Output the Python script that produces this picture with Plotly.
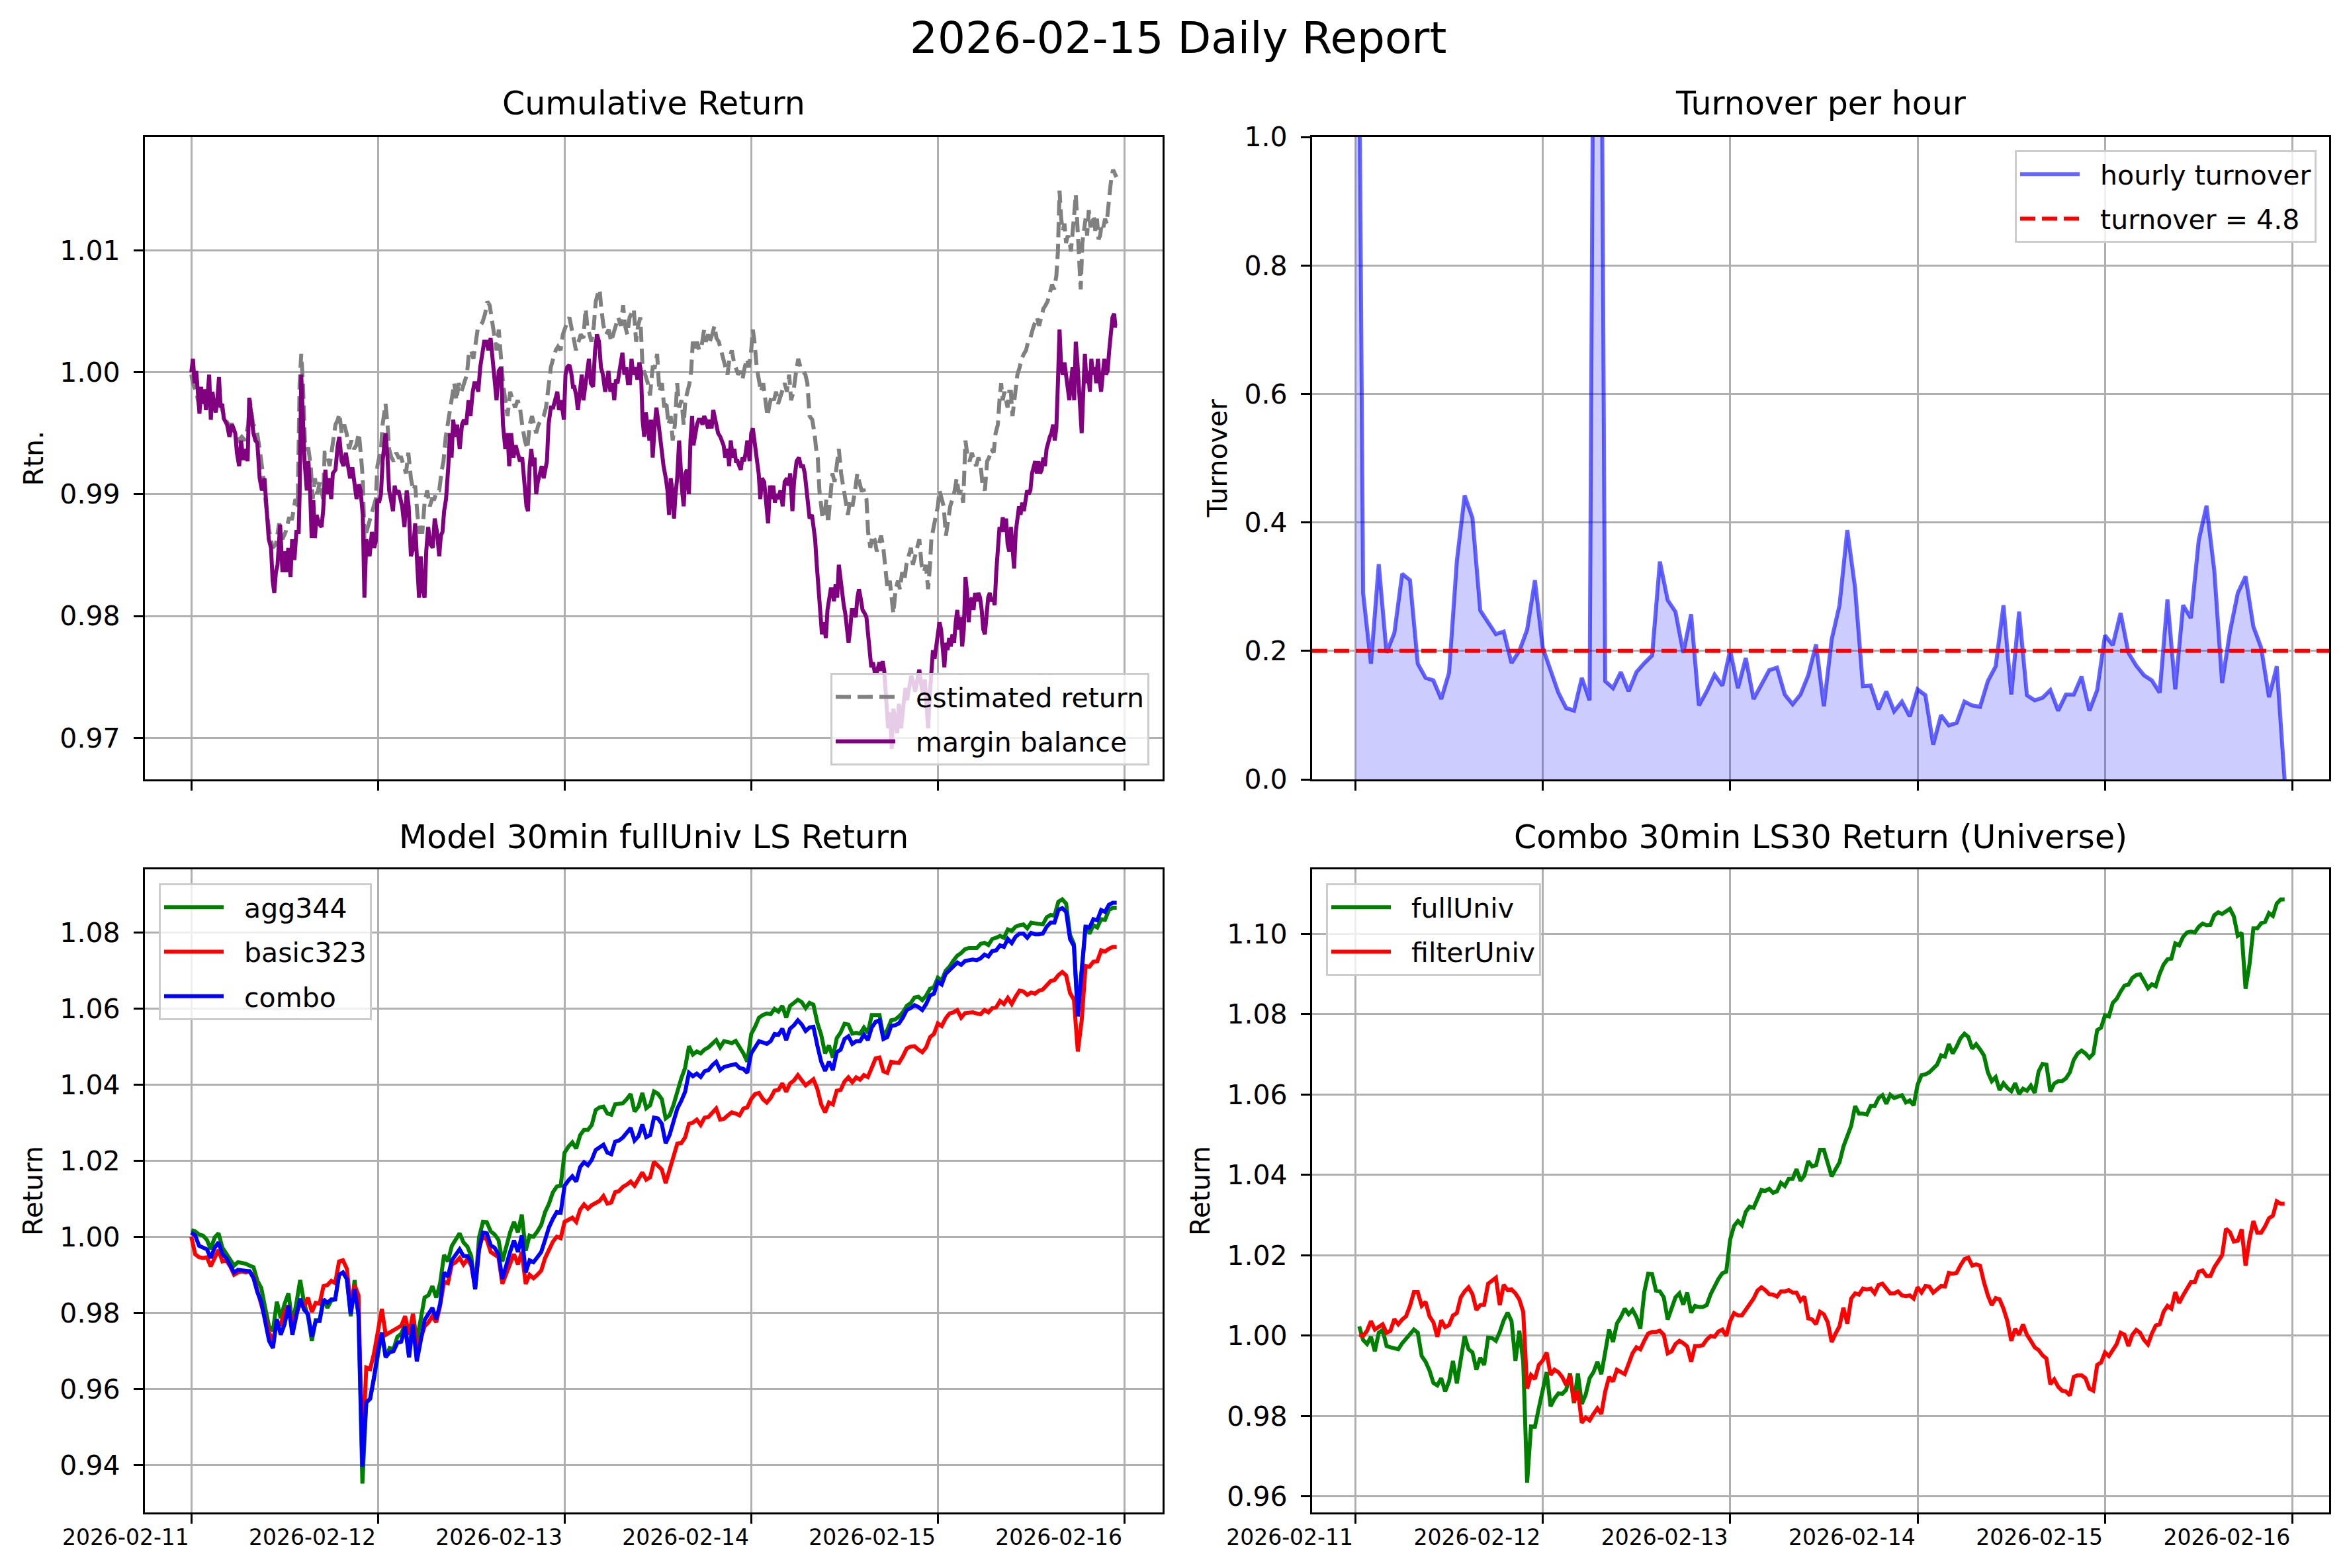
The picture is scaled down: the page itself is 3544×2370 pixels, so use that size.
import pandas as pd
import plotly.graph_objects as go

START = pd.Timestamp("2026-02-11 00:00")

# ---------------------------------------------------------------- data
# (hours since 2026-02-11 00:00, value)
ESTIMATED_RETURN = [
    (0.00, 0.9998), (0.21, 0.9991), (0.63, 0.9984), (1.05, 0.9971), (1.46, 0.9977), (1.88, 0.9974),
    (2.30, 0.9981), (2.72, 0.9977), (3.14, 0.9971), (3.56, 0.9981), (3.97, 0.9969), (4.39, 0.9961),
    (4.81, 0.9957), (5.23, 0.9957), (5.65, 0.9950), (6.07, 0.9944), (6.49, 0.9947), (6.90, 0.9944),
    (7.32, 0.9957), (7.53, 0.9977), (7.95, 0.9957), (8.37, 0.9954), (8.79, 0.9937), (9.20, 0.9917),
    (9.62, 0.9890), (10.04, 0.9869), (10.46, 0.9856), (10.88, 0.9859), (11.30, 0.9876), (11.72, 0.9863),
    (12.13, 0.9869), (12.55, 0.9880), (12.97, 0.9880), (13.39, 0.9896), (13.68, 0.9890), (13.93, 0.9991),
    (14.14, 1.0015), (14.35, 0.9991), (14.64, 0.9937), (15.06, 0.9937), (15.36, 0.9923), (15.61, 0.9896),
    (15.90, 0.9913), (16.19, 0.9900), (16.53, 0.9910), (16.95, 0.9896), (17.15, 0.9934), (17.45, 0.9934),
    (17.78, 0.9923), (18.20, 0.9940), (18.54, 0.9957), (18.83, 0.9961), (19.04, 0.9966), (19.33, 0.9950),
    (19.66, 0.9957), (19.96, 0.9950), (20.29, 0.9937), (20.59, 0.9944), (20.92, 0.9937), (21.21, 0.9940),
    (21.55, 0.9950), (21.84, 0.9930), (22.05, 0.9913), (22.26, 0.9863), (22.51, 0.9869), (22.80, 0.9876),
    (23.10, 0.9883), (23.43, 0.9890), (23.72, 0.9896), (23.93, 0.9923), (24.14, 0.9930), (24.39, 0.9937),
    (24.60, 0.9957), (24.81, 0.9967), (24.98, 0.9974), (25.23, 0.9957), (25.44, 0.9937), (25.73, 0.9930),
    (26.02, 0.9927), (26.36, 0.9934), (26.65, 0.9930), (26.99, 0.9930), (27.28, 0.9923), (27.61, 0.9917),
    (27.91, 0.9934), (28.24, 0.9913), (28.54, 0.9903), (28.79, 0.9907), (29.08, 0.9883), (29.37, 0.9869),
    (29.71, 0.9869), (30.00, 0.9893), (30.33, 0.9903), (30.67, 0.9890), (30.96, 0.9896), (31.25, 0.9896),
    (31.59, 0.9903), (31.88, 0.9903), (32.22, 0.9920), (32.43, 0.9927), (32.72, 0.9947), (32.97, 0.9957),
    (33.26, 0.9971), (33.56, 0.9984), (33.81, 0.9991), (34.10, 0.9977), (34.39, 0.9991), (34.73, 0.9984),
    (35.15, 0.9991), (35.44, 0.9998), (35.69, 1.0015), (35.98, 1.0018), (36.28, 1.0011), (36.53, 1.0025),
    (36.82, 1.0035), (37.11, 1.0038), (37.45, 1.0041), (37.78, 1.0048), (38.07, 1.0058), (38.37, 1.0055),
    (38.70, 1.0041), (39.00, 1.0025), (39.25, 1.0018), (39.54, 1.0035), (39.83, 1.0011), (40.08, 0.9991),
    (40.38, 0.9977), (40.67, 0.9964), (41.00, 0.9984), (41.30, 0.9977), (41.63, 0.9971), (41.97, 0.9977),
    (42.26, 0.9971), (42.55, 0.9957), (42.89, 0.9944), (43.22, 0.9937), (43.51, 0.9957), (43.81, 0.9964),
    (44.06, 0.9957), (44.35, 0.9950), (44.64, 0.9957), (44.98, 0.9961), (45.31, 0.9964), (45.61, 0.9971),
    (45.90, 0.9988), (46.23, 1.0004), (46.53, 1.0011), (46.86, 1.0018), (47.15, 1.0021), (47.49, 1.0018),
    (47.78, 1.0031), (48.08, 1.0038), (48.33, 1.0041), (48.62, 1.0045), (48.87, 1.0035), (49.16, 1.0028),
    (49.46, 1.0018), (49.79, 1.0025), (50.08, 1.0031), (50.42, 1.0028), (50.71, 1.0052), (50.92, 1.0038),
    (51.17, 1.0031), (51.46, 1.0025), (51.76, 1.0038), (52.01, 1.0058), (52.30, 1.0065), (52.51, 1.0068),
    (52.72, 1.0052), (53.01, 1.0038), (53.35, 1.0031), (53.68, 1.0035), (53.98, 1.0025), (54.27, 1.0031),
    (54.60, 1.0038), (54.90, 1.0045), (55.23, 1.0038), (55.53, 1.0055), (55.78, 1.0038), (56.07, 1.0031),
    (56.36, 1.0045), (56.61, 1.0048), (56.90, 1.0052), (57.20, 1.0025), (57.45, 1.0038), (57.74, 1.0045),
    (58.03, 1.0004), (58.37, 0.9998), (58.70, 0.9991), (58.99, 0.9981), (59.33, 1.0004), (59.60, 1.0004),
    (59.90, 1.0015), (60.19, 0.9984), (60.52, 0.9991), (60.81, 0.9971), (61.06, 0.9977), (61.36, 0.9957),
    (61.65, 0.9964), (61.90, 0.9944), (62.19, 0.9957), (62.48, 0.9991), (62.73, 0.9971), (63.03, 0.9977),
    (63.32, 0.9957), (63.53, 0.9977), (63.78, 0.9984), (64.07, 0.9991), (64.28, 1.0001), (64.49, 1.0025),
    (64.78, 1.0018), (65.03, 1.0025), (65.32, 1.0018), (65.61, 1.0021), (65.95, 1.0035), (66.16, 1.0025),
    (66.45, 1.0031), (66.66, 1.0025), (66.99, 1.0031), (67.28, 1.0038), (67.53, 1.0028), (67.83, 1.0025),
    (68.12, 1.0018), (68.37, 1.0011), (68.66, 1.0004), (68.95, 0.9998), (69.20, 1.0011), (69.50, 1.0018),
    (69.79, 1.0008), (70.04, 1.0004), (70.33, 0.9998), (70.62, 1.0001), (70.87, 0.9994), (71.17, 1.0004),
    (71.46, 1.0011), (71.71, 1.0004), (72.00, 1.0018), (72.21, 1.0035), (72.42, 1.0025), (72.71, 1.0004),
    (72.96, 0.9994), (73.25, 0.9984), (73.54, 0.9991), (73.88, 0.9977), (74.09, 0.9964), (74.38, 0.9974),
    (74.63, 0.9981), (74.92, 0.9977), (75.21, 0.9984), (75.46, 0.9974), (75.76, 0.9981), (76.05, 0.9988),
    (76.30, 0.9991), (76.59, 0.9984), (76.88, 0.9998), (77.13, 0.9977), (77.43, 0.9984), (77.72, 0.9998),
    (78.05, 1.0011), (78.34, 1.0004), (78.68, 1.0001), (78.97, 0.9998), (79.22, 0.9991), (79.51, 0.9964),
    (79.85, 0.9961), (80.14, 0.9950), (80.35, 0.9937), (80.56, 0.9930), (80.77, 0.9903), (80.98, 0.9890),
    (81.18, 0.9880), (81.48, 0.9886), (81.68, 0.9896), (81.89, 0.9876), (82.23, 0.9903), (82.44, 0.9917),
    (82.73, 0.9910), (82.98, 0.9923), (83.27, 0.9937), (83.56, 0.9917), (83.90, 0.9903), (84.19, 0.9896),
    (84.44, 0.9883), (84.73, 0.9896), (85.02, 0.9890), (85.36, 0.9903), (85.65, 0.9917), (85.90, 0.9910),
    (86.19, 0.9903), (86.48, 0.9903), (86.82, 0.9896), (87.03, 0.9869), (87.32, 0.9856), (87.57, 0.9866),
    (87.86, 0.9863), (88.15, 0.9853), (88.40, 0.9859), (88.70, 0.9866), (88.99, 0.9856), (89.24, 0.9842),
    (89.53, 0.9822), (89.82, 0.9829), (90.07, 0.9812), (90.28, 0.9802), (90.57, 0.9822), (90.87, 0.9829),
    (91.12, 0.9822), (91.41, 0.9836), (91.70, 0.9829), (91.95, 0.9842), (92.24, 0.9849), (92.54, 0.9856),
    (92.79, 0.9842), (93.08, 0.9849), (93.37, 0.9856), (93.62, 0.9863), (93.91, 0.9842), (94.21, 0.9836),
    (94.46, 0.9842), (94.75, 0.9822), (94.96, 0.9839), (95.17, 0.9863), (95.46, 0.9873), (95.71, 0.9880),
    (96.00, 0.9890), (96.21, 0.9903), (96.50, 0.9896), (96.75, 0.9890), (97.04, 0.9866), (97.34, 0.9883),
    (97.59, 0.9890), (97.88, 0.9896), (98.17, 0.9903), (98.42, 0.9913), (98.71, 0.9900), (99.01, 0.9903),
    (99.26, 0.9893), (99.55, 0.9944), (99.84, 0.9930), (100.09, 0.9927), (100.38, 0.9934), (100.68, 0.9927),
    (100.93, 0.9923), (101.22, 0.9930), (101.51, 0.9923), (101.76, 0.9907), (102.05, 0.9903), (102.34, 0.9927),
    (102.59, 0.9930), (102.89, 0.9937), (103.18, 0.9934), (103.43, 0.9950), (103.72, 0.9957), (103.93, 0.9977),
    (104.14, 0.9991), (104.35, 0.9977), (104.56, 0.9984), (104.77, 0.9977), (104.97, 0.9971), (105.18, 0.9984),
    (105.39, 0.9984), (105.60, 0.9964), (105.81, 0.9977), (106.02, 0.9991), (106.23, 0.9998), (106.52, 1.0004),
    (106.77, 1.0011), (107.06, 1.0015), (107.35, 1.0018), (107.60, 1.0025), (107.90, 1.0028), (108.19, 1.0035),
    (108.44, 1.0041), (108.73, 1.0045), (109.02, 1.0038), (109.27, 1.0045), (109.57, 1.0052), (109.86, 1.0055),
    (110.11, 1.0058), (110.40, 1.0065), (110.69, 1.0072), (110.94, 1.0068), (111.24, 1.0079), (111.44, 1.0099),
    (111.65, 1.0149), (111.86, 1.0126), (112.07, 1.0116), (112.28, 1.0122), (112.49, 1.0106), (112.70, 1.0112),
    (112.91, 1.0109), (113.11, 1.0099), (113.32, 1.0119), (113.53, 1.0129), (113.74, 1.0146), (113.95, 1.0122),
    (114.16, 1.0092), (114.37, 1.0068), (114.58, 1.0106), (114.79, 1.0116), (115.00, 1.0126), (115.20, 1.0112),
    (115.41, 1.0133), (115.62, 1.0119), (115.83, 1.0122), (116.04, 1.0129), (116.25, 1.0116), (116.46, 1.0126),
    (116.67, 1.0109), (116.87, 1.0112), (117.08, 1.0122), (117.29, 1.0119), (117.50, 1.0126), (117.71, 1.0122),
    (117.92, 1.0139), (118.13, 1.0149), (118.33, 1.0160), (118.54, 1.0166), (118.75, 1.0163), (118.96, 1.0160),
]

MARGIN_BALANCE = [
    (0.00, 1.0000), (0.10, 1.0004), (0.21, 1.0011), (0.42, 0.9991), (0.63, 1.0001), (0.84, 0.9984),
    (1.05, 0.9966), (1.26, 0.9988), (1.46, 0.9974), (1.67, 0.9986), (1.88, 0.9969), (2.09, 0.9981),
    (2.30, 0.9998), (2.51, 0.9961), (2.72, 0.9984), (2.93, 0.9974), (3.14, 0.9967), (3.35, 0.9977),
    (3.56, 0.9996), (3.77, 0.9971), (3.97, 0.9974), (4.18, 0.9962), (4.60, 0.9957), (4.90, 0.9947),
    (5.23, 0.9957), (5.65, 0.9950), (5.86, 0.9934), (6.15, 0.9923), (6.40, 0.9944), (6.69, 0.9928),
    (6.99, 0.9937), (7.24, 0.9927), (7.45, 0.9979), (7.74, 0.9964), (7.99, 0.9950), (8.24, 0.9944),
    (8.49, 0.9942), (8.79, 0.9913), (9.08, 0.9903), (9.41, 0.9913), (9.75, 0.9883), (9.96, 0.9863),
    (10.25, 0.9856), (10.46, 0.9829), (10.67, 0.9819), (10.88, 0.9836), (11.09, 0.9842), (11.42, 0.9875),
    (11.72, 0.9836), (11.92, 0.9853), (12.22, 0.9836), (12.47, 0.9856), (12.76, 0.9832), (12.97, 0.9863),
    (13.26, 0.9846), (13.51, 0.9869), (13.81, 0.9869), (13.93, 0.9900), (14.14, 0.9998), (14.35, 0.9950),
    (14.56, 0.9927), (14.85, 0.9903), (15.06, 0.9927), (15.27, 0.9903), (15.48, 0.9864), (15.69, 0.9895),
    (15.90, 0.9864), (16.11, 0.9883), (16.40, 0.9876), (16.74, 0.9873), (16.95, 0.9886), (17.24, 0.9920),
    (17.49, 0.9900), (17.70, 0.9913), (17.99, 0.9896), (18.20, 0.9917), (18.54, 0.9920), (18.83, 0.9940),
    (19.04, 0.9947), (19.33, 0.9927), (19.58, 0.9923), (19.87, 0.9934), (20.17, 0.9920), (20.42, 0.9913),
    (20.71, 0.9922), (21.00, 0.9907), (21.25, 0.9896), (21.55, 0.9908), (21.76, 0.9903), (22.05, 0.9883),
    (22.26, 0.9815), (22.51, 0.9863), (22.72, 0.9856), (22.93, 0.9849), (23.22, 0.9869), (23.51, 0.9856),
    (23.72, 0.9861), (23.93, 0.9896), (24.14, 0.9893), (24.39, 0.9900), (24.60, 0.9927), (24.81, 0.9937),
    (24.98, 0.9950), (25.23, 0.9930), (25.44, 0.9903), (25.65, 0.9896), (25.94, 0.9886), (26.15, 0.9907),
    (26.36, 0.9900), (26.65, 0.9903), (26.90, 0.9896), (27.11, 0.9890), (27.41, 0.9873), (27.70, 0.9903),
    (27.95, 0.9890), (28.24, 0.9849), (28.54, 0.9856), (28.79, 0.9876), (29.08, 0.9839), (29.29, 0.9815),
    (29.50, 0.9849), (29.75, 0.9822), (30.00, 0.9815), (30.21, 0.9853), (30.46, 0.9873), (30.75, 0.9859),
    (31.05, 0.9856), (31.30, 0.9880), (31.59, 0.9869), (31.88, 0.9849), (32.09, 0.9866), (32.30, 0.9869),
    (32.51, 0.9886), (32.76, 0.9896), (33.05, 0.9923), (33.26, 0.9950), (33.47, 0.9930), (33.68, 0.9961),
    (33.93, 0.9947), (34.18, 0.9957), (34.52, 0.9937), (34.81, 0.9957), (35.06, 0.9961), (35.35, 0.9957),
    (35.65, 0.9977), (35.90, 0.9964), (36.19, 0.9984), (36.40, 0.9991), (36.61, 0.9991), (36.90, 0.9984),
    (37.15, 1.0004), (37.45, 1.0018), (37.66, 1.0025), (37.95, 1.0025), (38.20, 1.0018), (38.49, 1.0028),
    (38.79, 1.0011), (39.04, 0.9991), (39.25, 0.9977), (39.54, 1.0001), (39.83, 1.0004), (40.08, 0.9957),
    (40.38, 0.9937), (40.67, 0.9950), (40.88, 0.9923), (41.13, 0.9950), (41.42, 0.9930), (41.71, 0.9940),
    (41.97, 0.9934), (42.26, 0.9927), (42.55, 0.9930), (42.80, 0.9907), (43.10, 0.9890), (43.30, 0.9886),
    (43.51, 0.9923), (43.72, 0.9937), (43.93, 0.9923), (44.14, 0.9930), (44.35, 0.9900), (44.56, 0.9910),
    (44.77, 0.9917), (45.06, 0.9923), (45.31, 0.9913), (45.52, 0.9923), (45.73, 0.9927), (45.94, 0.9957),
    (46.23, 0.9971), (46.53, 0.9971), (46.82, 0.9977), (47.07, 0.9984), (47.28, 0.9969), (47.57, 0.9977),
    (47.91, 0.9961), (48.12, 0.9998), (48.33, 1.0004), (48.62, 1.0006), (48.87, 0.9999), (49.08, 0.9988),
    (49.25, 0.9988), (49.50, 0.9981), (49.71, 0.9969), (50.00, 0.9984), (50.21, 0.9998), (50.42, 0.9977),
    (50.71, 0.9991), (50.92, 1.0004), (51.13, 1.0011), (51.38, 0.9991), (51.67, 0.9988), (51.92, 1.0018),
    (52.17, 1.0031), (52.43, 1.0025), (52.68, 1.0004), (52.93, 0.9998), (53.22, 0.9984), (53.43, 0.9991),
    (53.64, 1.0001), (53.89, 0.9984), (54.18, 0.9991), (54.39, 0.9977), (54.60, 0.9994), (54.81, 0.9991),
    (55.02, 0.9999), (55.23, 1.0008), (55.44, 1.0016), (55.69, 0.9998), (55.94, 1.0004), (56.15, 0.9991),
    (56.40, 0.9991), (56.61, 1.0011), (56.82, 0.9998), (57.11, 1.0004), (57.36, 0.9994), (57.61, 1.0008),
    (57.82, 1.0001), (58.03, 0.9961), (58.24, 0.9947), (58.45, 0.9967), (58.70, 0.9954), (58.91, 0.9944),
    (59.12, 0.9961), (59.33, 0.9930), (59.60, 0.9957), (59.81, 0.9971), (60.10, 0.9957), (60.40, 0.9937),
    (60.73, 0.9923), (61.02, 0.9913), (61.23, 0.9903), (61.44, 0.9883), (61.65, 0.9913), (61.86, 0.9903),
    (62.07, 0.9880), (62.27, 0.9900), (62.48, 0.9913), (62.73, 0.9944), (62.90, 0.9923), (63.11, 0.9903),
    (63.32, 0.9890), (63.53, 0.9917), (63.74, 0.9920), (63.99, 0.9900), (64.19, 0.9944), (64.40, 0.9964),
    (64.57, 0.9940), (64.82, 0.9950), (65.03, 0.9957), (65.24, 0.9961), (65.53, 0.9961), (65.74, 0.9957),
    (65.95, 0.9964), (66.16, 0.9961), (66.45, 0.9954), (66.66, 0.9961), (66.91, 0.9954), (67.12, 0.9969),
    (67.33, 0.9961), (67.53, 0.9954), (67.74, 0.9950), (68.03, 0.9947), (68.24, 0.9944), (68.45, 0.9940),
    (68.66, 0.9930), (68.99, 0.9937), (69.16, 0.9923), (69.37, 0.9944), (69.62, 0.9930), (69.83, 0.9937),
    (70.04, 0.9927), (70.25, 0.9927), (70.46, 0.9923), (70.66, 0.9920), (70.87, 0.9930), (71.08, 0.9927),
    (71.29, 0.9934), (71.50, 0.9944), (71.79, 0.9927), (72.00, 0.9950), (72.21, 0.9954), (72.42, 0.9944),
    (72.75, 0.9923), (72.96, 0.9917), (73.17, 0.9896), (73.38, 0.9913), (73.67, 0.9910), (73.96, 0.9890),
    (74.17, 0.9876), (74.42, 0.9907), (74.63, 0.9896), (74.84, 0.9907), (75.05, 0.9893), (75.26, 0.9900),
    (75.46, 0.9896), (75.76, 0.9903), (76.05, 0.9890), (76.30, 0.9910), (76.59, 0.9913), (76.80, 0.9907),
    (77.01, 0.9917), (77.30, 0.9886), (77.51, 0.9910), (77.84, 0.9927), (78.14, 0.9930), (78.39, 0.9923),
    (78.68, 0.9923), (78.89, 0.9917), (79.10, 0.9903), (79.30, 0.9890), (79.51, 0.9880), (79.81, 0.9883),
    (80.01, 0.9873), (80.22, 0.9863), (80.43, 0.9842), (80.68, 0.9822), (80.89, 0.9802), (81.10, 0.9785),
    (81.31, 0.9795), (81.60, 0.9782), (81.81, 0.9805), (82.02, 0.9812), (82.23, 0.9822), (82.44, 0.9822),
    (82.64, 0.9812), (82.85, 0.9826), (83.06, 0.9815), (83.27, 0.9842), (83.48, 0.9829), (83.69, 0.9815),
    (83.90, 0.9809), (84.10, 0.9802), (84.31, 0.9792), (84.52, 0.9778), (84.73, 0.9789), (84.94, 0.9805),
    (85.15, 0.9805), (85.44, 0.9799), (85.65, 0.9815), (85.86, 0.9822), (86.07, 0.9815), (86.32, 0.9805),
    (86.61, 0.9802), (86.82, 0.9799), (87.03, 0.9785), (87.24, 0.9765), (87.44, 0.9758), (87.65, 0.9762),
    (87.86, 0.9755), (88.20, 0.9755), (88.49, 0.9762), (88.70, 0.9755), (88.90, 0.9763), (89.11, 0.9755),
    (89.32, 0.9731), (89.61, 0.9708), (89.86, 0.9721), (90.07, 0.9691), (90.28, 0.9724), (90.57, 0.9714),
    (90.78, 0.9704), (90.99, 0.9728), (91.28, 0.9708), (91.53, 0.9724), (91.83, 0.9741), (92.04, 0.9731),
    (92.33, 0.9741), (92.58, 0.9751), (92.87, 0.9745), (93.08, 0.9738), (93.37, 0.9748), (93.62, 0.9756),
    (93.83, 0.9745), (94.12, 0.9735), (94.33, 0.9748), (94.54, 0.9728), (94.75, 0.9708), (94.96, 0.9735),
    (95.17, 0.9762), (95.37, 0.9772), (95.58, 0.9765), (95.79, 0.9775), (96.00, 0.9782), (96.21, 0.9795),
    (96.42, 0.9789), (96.63, 0.9768), (96.84, 0.9758), (97.04, 0.9778), (97.25, 0.9772), (97.46, 0.9782),
    (97.67, 0.9775), (97.88, 0.9785), (98.09, 0.9778), (98.30, 0.9795), (98.50, 0.9805), (98.71, 0.9789),
    (98.92, 0.9799), (99.13, 0.9775), (99.34, 0.9789), (99.55, 0.9832), (99.76, 0.9819), (99.97, 0.9795),
    (100.17, 0.9812), (100.38, 0.9815), (100.59, 0.9805), (100.80, 0.9819), (101.01, 0.9812), (101.22, 0.9819),
    (101.43, 0.9815), (101.64, 0.9805), (101.84, 0.9789), (102.05, 0.9785), (102.26, 0.9805), (102.47, 0.9815),
    (102.68, 0.9819), (102.89, 0.9812), (103.10, 0.9815), (103.31, 0.9809), (103.51, 0.9836), (103.72, 0.9856),
    (103.93, 0.9873), (104.14, 0.9869), (104.35, 0.9881), (104.56, 0.9869), (104.77, 0.9880), (104.97, 0.9859),
    (105.18, 0.9853), (105.39, 0.9873), (105.60, 0.9849), (105.81, 0.9839), (106.02, 0.9869), (106.23, 0.9880),
    (106.44, 0.9890), (106.64, 0.9883), (106.85, 0.9893), (107.06, 0.9886), (107.27, 0.9896), (107.48, 0.9903),
    (107.69, 0.9900), (107.90, 0.9903), (108.11, 0.9917), (108.31, 0.9923), (108.52, 0.9927), (108.73, 0.9917),
    (108.94, 0.9927), (109.15, 0.9917), (109.36, 0.9920), (109.57, 0.9930), (109.77, 0.9923), (109.98, 0.9937),
    (110.19, 0.9944), (110.40, 0.9947), (110.61, 0.9950), (110.82, 0.9957), (111.03, 0.9944), (111.24, 0.9954),
    (111.44, 0.9991), (111.65, 1.0035), (111.86, 1.0004), (112.07, 0.9998), (112.28, 1.0008), (112.49, 0.9998),
    (112.70, 0.9991), (112.91, 0.9977), (113.11, 0.9991), (113.32, 1.0004), (113.53, 0.9977), (113.74, 1.0025),
    (113.95, 1.0008), (114.16, 0.9988), (114.37, 0.9957), (114.50, 0.9950), (114.66, 0.9977), (114.91, 1.0015),
    (115.12, 0.9991), (115.33, 1.0001), (115.54, 0.9984), (115.74, 1.0011), (115.95, 0.9998), (116.16, 1.0004),
    (116.37, 0.9991), (116.58, 1.0011), (116.79, 0.9994), (117.00, 0.9984), (117.20, 0.9998), (117.41, 1.0011),
    (117.62, 0.9998), (117.83, 1.0001), (118.04, 1.0018), (118.25, 1.0031), (118.46, 1.0045), (118.67, 1.0048),
    (118.83, 1.0038), (119.04, 1.0038),
]

# hourly, from 2026-02-11 00:00
HOURLY_TURNOVER = [
    2.0, 0.29, 0.18, 0.335, 0.197, 0.228, 0.32, 0.31, 0.18, 0.158,
    0.154, 0.125, 0.166, 0.34, 0.442, 0.407, 0.263, 0.244, 0.226, 0.23,
    0.181, 0.2, 0.233, 0.31, 0.205, 0.17, 0.135, 0.111, 0.107, 0.158,
    0.123, 2.4, 0.153, 0.142, 0.167, 0.137, 0.167, 0.181, 0.193, 0.339,
    0.279, 0.261, 0.197, 0.257, 0.115, 0.137, 0.163, 0.146, 0.201, 0.142,
    0.189, 0.125, 0.146, 0.170, 0.174, 0.132, 0.117, 0.132, 0.162, 0.210,
    0.114, 0.218, 0.271, 0.388, 0.298, 0.145, 0.146, 0.109, 0.137, 0.106,
    0.121, 0.098, 0.140, 0.131, 0.054, 0.100, 0.084, 0.088, 0.121, 0.115,
    0.113, 0.153, 0.176, 0.271, 0.132, 0.261, 0.131, 0.123, 0.127, 0.139,
    0.107, 0.132, 0.132, 0.160, 0.107, 0.139, 0.224, 0.209, 0.259, 0.197,
    0.177, 0.162, 0.154, 0.135, 0.280, 0.140, 0.271, 0.251, 0.372, 0.426,
    0.325, 0.150, 0.230, 0.290, 0.316, 0.238, 0.205, 0.128, 0.176, 0.0,
]
DAILY_TURNOVER_TARGET = 4.8
TURNOVER_LINE = DAILY_TURNOVER_TARGET / 24

# 30-min bars, from 2026-02-11 00:00
AGG344 = [
    1.0018, 1.0015, 1.0007, 1.0004, 0.9993, 0.9968, 0.9999, 1.0010, 0.9972, 0.9955,
    0.9939, 0.9925, 0.9934, 0.9932, 0.9930, 0.9925, 0.9921, 0.9885, 0.9866, 0.9814,
    0.9765, 0.9754, 0.9830, 0.9787, 0.9825, 0.9852, 0.9771, 0.9825, 0.9887, 0.9827,
    0.9792, 0.9727, 0.9782, 0.9782, 0.9836, 0.9814, 0.9833, 0.9836, 0.9901, 0.9907,
    0.9890, 0.9792, 0.9887, 0.9792, 0.9352, 0.9564, 0.9575, 0.9629, 0.9684, 0.9749,
    0.9684, 0.9708, 0.9705, 0.9738, 0.9746, 0.9771, 0.9684, 0.9798, 0.9727, 0.9792,
    0.9841, 0.9847, 0.9871, 0.9841, 0.9879, 0.9953, 0.9936, 0.9977, 0.9993, 1.0010,
    0.9986, 0.9975, 0.9950, 0.9863, 0.9999, 1.0040, 1.0039, 1.0015, 1.0007, 0.9993,
    0.9936, 0.9977, 1.0013, 1.0040, 1.0012, 1.0059, 0.9964, 1.0004, 1.0001, 1.0015,
    1.0032, 1.0066, 1.0088, 1.0118, 1.0133, 1.0135, 1.0222, 1.0238, 1.0249, 1.0233,
    1.0268, 1.0282, 1.0282, 1.0295, 1.0334, 1.0341, 1.0343, 1.0325, 1.0322, 1.0349,
    1.0350, 1.0352, 1.0363, 1.0376, 1.0330, 1.0343, 1.0379, 1.0339, 1.0347, 1.0383,
    1.0377, 1.0363, 1.0312, 1.0320, 1.0347, 1.0385, 1.0417, 1.0445, 1.0502, 1.0480,
    1.0488, 1.0483, 1.0493, 1.0499, 1.0510, 1.0518, 1.0499, 1.0515, 1.0513, 1.0510,
    1.0516, 1.0501, 1.0483, 1.0461, 1.0534, 1.0553, 1.0577, 1.0584, 1.0588, 1.0586,
    1.0600, 1.0593, 1.0608, 1.0577, 1.0608, 1.0616, 1.0624, 1.0618, 1.0602, 1.0616,
    1.0611, 1.0564, 1.0532, 1.0483, 1.0504, 1.0472, 1.0523, 1.0538, 1.0561, 1.0559,
    1.0535, 1.0537, 1.0535, 1.0551, 1.0537, 1.0584, 1.0584, 1.0584, 1.0528, 1.0545,
    1.0570, 1.0572, 1.0580, 1.0591, 1.0608, 1.0615, 1.0630, 1.0632, 1.0623, 1.0635,
    1.0653, 1.0657, 1.0682, 1.0675, 1.0700, 1.0711, 1.0727, 1.0740, 1.0747, 1.0757,
    1.0760, 1.0760, 1.0760, 1.0771, 1.0774, 1.0768, 1.0784, 1.0787, 1.0792, 1.0787,
    1.0809, 1.0805, 1.0816, 1.0820, 1.0822, 1.0812, 1.0827, 1.0825, 1.0823, 1.0822,
    1.0841, 1.0847, 1.0845, 1.0882, 1.0888, 1.0877, 1.0795, 1.0771, 1.0588, 1.0695,
    1.0820, 1.0798, 1.0820, 1.0814, 1.0836, 1.0834, 1.0860, 1.0866, 1.0866,
]
BASIC323 = [
    1.0001, 0.9955, 0.9947, 0.9945, 0.9947, 0.9923, 0.9945, 0.9966, 0.9936, 0.9939,
    0.9923, 0.9901, 0.9907, 0.9910, 0.9907, 0.9910, 0.9896, 0.9858, 0.9825, 0.9782,
    0.9749, 0.9727, 0.9776, 0.9771, 0.9803, 0.9820, 0.9771, 0.9798, 0.9825, 0.9816,
    0.9841, 0.9803, 0.9827, 0.9825, 0.9871, 0.9874, 0.9885, 0.9879, 0.9936, 0.9939,
    0.9917, 0.9820, 0.9874, 0.9847, 0.9423, 0.9657, 0.9653, 0.9695, 0.9749, 0.9811,
    0.9743, 0.9749, 0.9754, 0.9762, 0.9767, 0.9792, 0.9743, 0.9798, 0.9711, 0.9733,
    0.9765, 0.9776, 0.9792, 0.9776, 0.9820, 0.9882, 0.9879, 0.9928, 0.9934, 0.9945,
    0.9928, 0.9942, 0.9925, 0.9868, 0.9972, 1.0004, 0.9993, 0.9961, 0.9955, 0.9947,
    0.9877, 0.9907, 0.9930, 0.9955, 0.9928, 0.9961, 0.9877, 0.9901, 0.9892, 0.9901,
    0.9912, 0.9945, 0.9968, 0.9988, 1.0001, 0.9997, 1.0040, 1.0046, 1.0051, 1.0040,
    1.0072, 1.0086, 1.0075, 1.0084, 1.0091, 1.0095, 1.0108, 1.0088, 1.0091, 1.0118,
    1.0121, 1.0132, 1.0138, 1.0146, 1.0135, 1.0151, 1.0170, 1.0151, 1.0157, 1.0198,
    1.0189, 1.0178, 1.0142, 1.0175, 1.0216, 1.0246, 1.0247, 1.0262, 1.0298, 1.0301,
    1.0309, 1.0295, 1.0314, 1.0316, 1.0327, 1.0338, 1.0309, 1.0311, 1.0320, 1.0328,
    1.0325, 1.0320, 1.0338, 1.0341, 1.0363, 1.0376, 1.0379, 1.0363, 1.0354, 1.0366,
    1.0385, 1.0387, 1.0404, 1.0382, 1.0404, 1.0412, 1.0426, 1.0412, 1.0399, 1.0407,
    1.0415, 1.0390, 1.0349, 1.0328, 1.0354, 1.0349, 1.0385, 1.0387, 1.0409, 1.0420,
    1.0407, 1.0420, 1.0414, 1.0426, 1.0421, 1.0445, 1.0470, 1.0472, 1.0436, 1.0432,
    1.0461, 1.0459, 1.0458, 1.0475, 1.0496, 1.0501, 1.0502, 1.0493, 1.0486, 1.0499,
    1.0526, 1.0534, 1.0562, 1.0555, 1.0575, 1.0588, 1.0591, 1.0597, 1.0577, 1.0589,
    1.0589, 1.0591, 1.0588, 1.0586, 1.0597, 1.0591, 1.0602, 1.0604, 1.0621, 1.0613,
    1.0629, 1.0613, 1.0632, 1.0648, 1.0646, 1.0637, 1.0643, 1.0640, 1.0648, 1.0651,
    1.0662, 1.0673, 1.0676, 1.0689, 1.0697, 1.0688, 1.0642, 1.0624, 1.0488, 1.0570,
    1.0713, 1.0711, 1.0724, 1.0725, 1.0754, 1.0751, 1.0758, 1.0763, 1.0763,
]
COMBO = [
    1.0012, 1.0004, 0.9977, 0.9972, 0.9968, 0.9945, 0.9972, 0.9986, 0.9955, 0.9945,
    0.9925, 0.9907, 0.9914, 0.9912, 0.9910, 0.9910, 0.9892, 0.9855, 0.9830, 0.9776,
    0.9727, 0.9708, 0.9784, 0.9743, 0.9771, 0.9820, 0.9743, 0.9792, 0.9838, 0.9809,
    0.9798, 0.9738, 0.9779, 0.9779, 0.9836, 0.9827, 0.9836, 0.9836, 0.9901, 0.9907,
    0.9890, 0.9798, 0.9863, 0.9798, 0.9396, 0.9566, 0.9575, 0.9632, 0.9700, 0.9749,
    0.9684, 0.9697, 0.9700, 0.9722, 0.9725, 0.9765, 0.9684, 0.9771, 0.9673, 0.9727,
    0.9782, 0.9798, 0.9814, 0.9784, 0.9825, 0.9907, 0.9896, 0.9939, 0.9955, 0.9968,
    0.9950, 0.9950, 0.9934, 0.9863, 0.9966, 1.0012, 1.0010, 0.9979, 0.9972, 0.9955,
    0.9890, 0.9928, 0.9961, 0.9991, 0.9961, 1.0004, 0.9907, 0.9939, 0.9934, 0.9947,
    0.9961, 0.9993, 1.0026, 1.0048, 1.0066, 1.0064, 1.0135, 1.0149, 1.0160, 1.0146,
    1.0184, 1.0197, 1.0189, 1.0203, 1.0229, 1.0236, 1.0243, 1.0222, 1.0218, 1.0251,
    1.0254, 1.0262, 1.0276, 1.0287, 1.0254, 1.0265, 1.0296, 1.0263, 1.0268, 1.0314,
    1.0312, 1.0298, 1.0247, 1.0268, 1.0303, 1.0338, 1.0358, 1.0382, 1.0432, 1.0423,
    1.0430, 1.0421, 1.0436, 1.0439, 1.0452, 1.0461, 1.0439, 1.0447, 1.0450, 1.0453,
    1.0455, 1.0445, 1.0442, 1.0432, 1.0483, 1.0499, 1.0515, 1.0512, 1.0508, 1.0515,
    1.0534, 1.0532, 1.0548, 1.0518, 1.0548, 1.0557, 1.0570, 1.0559, 1.0542, 1.0551,
    1.0553, 1.0504, 1.0461, 1.0437, 1.0461, 1.0439, 1.0486, 1.0493, 1.0521, 1.0528,
    1.0508, 1.0515, 1.0515, 1.0532, 1.0518, 1.0551, 1.0566, 1.0570, 1.0521, 1.0526,
    1.0555, 1.0557, 1.0562, 1.0577, 1.0597, 1.0602, 1.0610, 1.0605, 1.0597, 1.0613,
    1.0635, 1.0640, 1.0671, 1.0664, 1.0692, 1.0702, 1.0713, 1.0722, 1.0716, 1.0726,
    1.0728, 1.0730, 1.0728, 1.0733, 1.0743, 1.0738, 1.0752, 1.0754, 1.0767, 1.0763,
    1.0784, 1.0773, 1.0790, 1.0798, 1.0798, 1.0787, 1.0800, 1.0796, 1.0796, 1.0798,
    1.0816, 1.0827, 1.0827, 1.0860, 1.0865, 1.0855, 1.0784, 1.0765, 1.0580, 1.0695,
    1.0816, 1.0814, 1.0836, 1.0833, 1.0860, 1.0855, 1.0874, 1.0879, 1.0879,
]

# 30-min bars, from 2026-02-11 00:30
FULL_UNIV = [
    1.0023, 0.9989, 0.9979, 0.9997, 0.9961, 1.0007, 1.0014, 0.9974, 0.9971, 0.9969,
    0.9966, 0.9981, 0.9992, 1.0002, 1.0015, 1.0007, 0.9949, 0.9935, 0.9913, 0.9882,
    0.9876, 0.9894, 0.9861, 0.9886, 0.9937, 0.9881, 0.9940, 0.9999, 0.9966, 0.9958,
    0.9915, 0.9945, 0.9927, 0.9995, 0.9994, 0.9987, 1.0009, 1.0038, 1.0057, 1.0036,
    0.9937, 1.0012, 0.9935, 0.9634, 0.9774, 0.9773, 0.9820, 0.9871, 0.9909, 0.9824,
    0.9843, 0.9856, 0.9855, 0.9865, 0.9906, 0.9832, 0.9906, 0.9830, 0.9853, 0.9894,
    0.9909, 0.9935, 0.9904, 0.9959, 1.0015, 0.9984, 1.0030, 1.0046, 1.0067, 1.0053,
    1.0064, 1.0046, 1.0017, 1.0108, 1.0154, 1.0153, 1.0112, 1.0110, 1.0095, 1.0040,
    1.0071, 1.0095, 1.0105, 1.0077, 1.0107, 1.0057, 1.0074, 1.0071, 1.0071, 1.0076,
    1.0103, 1.0123, 1.0141, 1.0155, 1.0159, 1.0239, 1.0273, 1.0285, 1.0275, 1.0308,
    1.0321, 1.0318, 1.0342, 1.0362, 1.0360, 1.0365, 1.0355, 1.0359, 1.0380, 1.0372,
    1.0390, 1.0390, 1.0414, 1.0385, 1.0398, 1.0434, 1.0421, 1.0424, 1.0462,
    1.0462, 1.0429, 1.0396, 1.0414, 1.0431, 1.0470, 1.0499, 1.0522, 1.0571, 1.0552,
    1.0552, 1.0550, 1.0571, 1.0571, 1.0591, 1.0598, 1.0577, 1.0599, 1.0591, 1.0594,
    1.0598, 1.0580, 1.0585, 1.0573, 1.0624, 1.0648, 1.0650, 1.0655, 1.0664, 1.0674,
    1.0697, 1.0694, 1.0725, 1.0702, 1.0719, 1.0740, 1.0751, 1.0743, 1.0714, 1.0725,
    1.0712, 1.0697, 1.0655, 1.0633, 1.0643, 1.0611, 1.0628, 1.0616, 1.0608, 1.0628,
    1.0601, 1.0614, 1.0609, 1.0622, 1.0604, 1.0657, 1.0676, 1.0674, 1.0607, 1.0627,
    1.0633, 1.0633, 1.0640, 1.0655, 1.0686, 1.0702, 1.0709, 1.0702, 1.0691, 1.0701,
    1.0760, 1.0766, 1.0797, 1.0794, 1.0828, 1.0838, 1.0856, 1.0871, 1.0873, 1.0890,
    1.0897, 1.0899, 1.0882, 1.0864, 1.0874, 1.0869, 1.0900, 1.0923, 1.0936, 1.0938,
    1.0976, 1.0971, 1.0992, 1.1003, 1.1005, 1.1003, 1.1017, 1.1025, 1.1021, 1.1022,
    1.1046, 1.1053, 1.1049, 1.1055, 1.1062, 1.1043, 1.0995, 1.1002, 1.0863, 1.0923,
    1.1013, 1.1013, 1.1026, 1.1029, 1.1051, 1.1044, 1.1075, 1.1085, 1.1085,
]
FILTER_UNIV = [
    1.0002, 0.9999, 1.0012, 1.0036, 1.0015, 1.0021, 1.0028, 1.0007, 1.0012, 1.0041,
    1.0028, 1.0040, 1.0048, 1.0074, 1.0108, 1.0108, 1.0074, 1.0084, 1.0048, 1.0033,
    0.9997, 1.0038, 1.0021, 1.0026, 1.0050, 1.0056, 1.0095, 1.0110, 1.0120, 1.0103,
    1.0064, 1.0076, 1.0077, 1.0129, 1.0138, 1.0144, 1.0076, 1.0126, 1.0113, 1.0115,
    1.0105, 1.0090, 1.0059, 0.9868, 0.9902, 0.9892, 0.9927, 0.9938, 0.9958, 0.9902,
    0.9915, 0.9909, 0.9897, 0.9877, 0.9902, 0.9835, 0.9863, 0.9783, 0.9796, 0.9789,
    0.9805, 0.9819, 0.9805, 0.9861, 0.9897, 0.9886, 0.9915, 0.9909, 0.9904, 0.9930,
    0.9956, 0.9971, 0.9966, 0.9987, 1.0005, 1.0009, 1.0009, 1.0012, 1.0002, 0.9956,
    0.9961, 0.9979, 0.9987, 0.9981, 0.9973, 0.9935, 0.9974, 0.9974, 0.9976, 0.9990,
    0.9999, 0.9997, 1.0010, 1.0015, 0.9999, 1.0036, 1.0056, 1.0050, 1.0050, 1.0064,
    1.0079, 1.0092, 1.0112, 1.0120, 1.0113, 1.0103, 1.0102, 1.0097, 1.0110, 1.0110,
    1.0113, 1.0107, 1.0107, 1.0087, 1.0097, 1.0043, 1.0040, 1.0028, 1.0059,
    1.0053, 1.0033, 0.9984, 1.0005, 1.0023, 1.0069, 1.0030, 1.0092, 1.0105, 1.0102,
    1.0117, 1.0115, 1.0117, 1.0105, 1.0126, 1.0129, 1.0115, 1.0105, 1.0105, 1.0110,
    1.0100, 1.0098, 1.0100, 1.0092, 1.0120, 1.0107, 1.0123, 1.0122, 1.0107, 1.0115,
    1.0123, 1.0122, 1.0156, 1.0154, 1.0156, 1.0175, 1.0190, 1.0194, 1.0174, 1.0177,
    1.0174, 1.0133, 1.0100, 1.0076, 1.0093, 1.0090, 1.0067, 1.0036, 0.9987, 1.0017,
    1.0002, 1.0028, 1.0002, 0.9987, 0.9971, 0.9964, 0.9951, 0.9943, 0.9879, 0.9891,
    0.9873, 0.9863, 0.9861, 0.9851, 0.9897, 0.9901, 0.9901, 0.9894, 0.9868, 0.9863,
    0.9927, 0.9933, 0.9958, 0.9949, 0.9963, 0.9979, 1.0007, 1.0002, 0.9974, 1.0002,
    1.0014, 1.0007, 0.9989, 0.9978, 1.0005, 1.0025, 1.0028, 1.0059, 1.0074, 1.0067,
    1.0108, 1.0081, 1.0100, 1.0118, 1.0133, 1.0133, 1.0159, 1.0162, 1.0148, 1.0148,
    1.0170, 1.0185, 1.0200, 1.0266, 1.0257, 1.0234, 1.0236, 1.0264, 1.0174, 1.0239,
    1.0285, 1.0256, 1.0256, 1.0272, 1.0292, 1.0298, 1.0334, 1.0328, 1.0328,
]

# ---------------------------------------------------------------- layout bits
W, H = 3544, 2370
FONT = "DejaVu Sans"
LEFT_X = [211 / W, 1749 / W]
RIGHT_X = [1975 / W, 3512 / W]
TOP_Y = [1 - 1170 / H, 1 - 199 / H]
BOT_Y = [1 - 2278 / H, 1 - 1306 / H]
LEFT_RANGE = ["2026-02-10 18:02", "2026-02-16 04:54"]
RIGHT_RANGE = ["2026-02-10 18:28", "2026-02-16 04:42"]
LW = 6
DASH = "23px,10px"
PAD = "\u00a0\u00a0"  # gap between legend handle and label


def to_times(hours):
    return [START + pd.Timedelta(hours=h) for h in hours]


est_h, est_v = zip(*ESTIMATED_RETURN)
mb_h, mb_v = zip(*MARGIN_BALANCE)
turnover_t = pd.date_range(START, periods=len(HOURLY_TURNOVER), freq="h")
model_t = pd.date_range(START, periods=len(AGG344), freq="30min")
univ_t = pd.date_range(START + pd.Timedelta(minutes=30), periods=len(FULL_UNIV), freq="30min")

fig = go.Figure()

# top left
fig.add_trace(go.Scatter(x=to_times(est_h), y=est_v, mode="lines", name=PAD + "estimated return",
                         line=dict(color="#808080", width=LW, dash=DASH), xaxis="x", yaxis="y",
                         legend="legend", legendgroup="a"))
fig.add_trace(go.Scatter(x=to_times(mb_h), y=mb_v, mode="lines", name=PAD + "margin balance",
                         line=dict(color="#800080", width=LW), xaxis="x", yaxis="y",
                         legend="legend", legendgroup="b"))

# top right
fig.add_trace(go.Scatter(x=turnover_t, y=HOURLY_TURNOVER, mode="lines", fill="tozeroy",
                         fillcolor="rgba(0,0,255,0.2)", line=dict(width=0), showlegend=False,
                         hoverinfo="skip", xaxis="x2", yaxis="y2"))
fig.add_trace(go.Scatter(x=turnover_t, y=HOURLY_TURNOVER, mode="lines", name=PAD + "hourly turnover",
                         line=dict(color="rgba(0,0,255,0.6)", width=LW), xaxis="x2", yaxis="y2",
                         legend="legend2", legendgroup="c"))
fig.add_trace(go.Scatter(x=RIGHT_RANGE, y=[TURNOVER_LINE, TURNOVER_LINE], mode="lines",
                         name=PAD + f"turnover = {DAILY_TURNOVER_TARGET}",
                         line=dict(color="#ff0000", width=LW, dash=DASH), xaxis="x2", yaxis="y2",
                         legend="legend2", legendgroup="d"))

# bottom left
for name, vals, color in [("agg344", AGG344, "#008000"), ("basic323", BASIC323, "#ff0000"),
                          ("combo", COMBO, "#0000ff")]:
    fig.add_trace(go.Scatter(x=model_t, y=vals, mode="lines", name=PAD + name,
                             line=dict(color=color, width=LW), xaxis="x3", yaxis="y3",
                             legend="legend3", legendgroup=name))

# bottom right
for name, vals, color in [("fullUniv", FULL_UNIV, "#008000"), ("filterUniv", FILTER_UNIV, "#ff0000")]:
    fig.add_trace(go.Scatter(x=univ_t, y=vals, mode="lines", name=PAD + name,
                             line=dict(color=color, width=LW), xaxis="x4", yaxis="y4",
                             legend="legend4", legendgroup=name))

axis_style = dict(showline=True, mirror=True, linecolor="black", linewidth=3.3,
                  ticks="outside", ticklen=14, tickwidth=3.3, tickcolor="black",
                  showgrid=True, gridcolor="#b0b0b0", gridwidth=3.3, zeroline=False,
                  automargin=False, ticklabeloverflow="allow",
                  tickfont=dict(family=FONT, size=41, color="black"), ticklabelstandoff=12)
# date labels sit to the left of their tick (right-aligned), as in the original
x_style = dict(axis_style, type="date", dtick=86400000, tick0="2026-02-11",
               tickformat="%Y-%m-%d", tickfont=dict(family=FONT, size=33, color="black"),
               ticklabelposition="outside left", ticklabelstandoff=6)

legend_style = dict(font=dict(family=FONT, size=41, color="black"),
                    bgcolor="rgba(255,255,255,0.8)", bordercolor="#cccccc", borderwidth=3,
                    itemwidth=90, traceorder="grouped", tracegroupgap=11)

fig.update_layout(
    template="none",
    width=W, height=H, margin=dict(l=0, r=0, t=0, b=0, autoexpand=False),
    paper_bgcolor="white", plot_bgcolor="white",
    xaxis=dict(x_style, domain=LEFT_X, range=LEFT_RANGE, anchor="y", showticklabels=False),
    yaxis=dict(axis_style, domain=TOP_Y, range=[0.9666, 1.0193], dtick=0.01, tick0=0.97,
               tickformat=".2f", anchor="x"),
    xaxis2=dict(x_style, domain=RIGHT_X, range=RIGHT_RANGE, anchor="y2", showticklabels=False),
    yaxis2=dict(axis_style, domain=TOP_Y, range=[0, 1], dtick=0.2, tickformat=".1f", anchor="x2"),
    xaxis3=dict(x_style, domain=LEFT_X, range=LEFT_RANGE, anchor="y3"),
    yaxis3=dict(axis_style, domain=BOT_Y, range=[0.9276, 1.0967], dtick=0.02, tick0=0.94,
                tickformat=".2f", anchor="x3"),
    xaxis4=dict(x_style, domain=RIGHT_X, range=RIGHT_RANGE, anchor="y4"),
    yaxis4=dict(axis_style, domain=BOT_Y, range=[0.956, 1.116], dtick=0.02, tick0=0.96,
                tickformat=".2f", anchor="x4"),
    legend=dict(legend_style, x=1729 / W, y=1 - 1149 / H, xanchor="right", yanchor="bottom"),
    legend2=dict(legend_style, x=3493 / W, y=1 - 219 / H, xanchor="right", yanchor="top"),
    legend3=dict(legend_style, x=232 / W, y=1 - 1327 / H, xanchor="left", yanchor="top"),
    legend4=dict(legend_style, x=1996 / W, y=1 - 1327 / H, xanchor="left", yanchor="top"),
    showlegend=True,
)


def text(s, x, y, size, angle=0):
    fig.add_annotation(text=s, x=x, y=y, xref="paper", yref="paper", showarrow=False,
                       xanchor="center", yanchor="middle", textangle=angle,
                       font=dict(family=FONT, size=size, color="black"))


text("2026-02-15 Daily Report", 0.5, 1 - 50 / H, 66)
text("Cumulative Return", 980 / W, 1 - 149 / H, 49)
text("Turnover per hour", 2743.5 / W, 1 - 149 / H, 49)
text("Model 30min fullUniv LS Return", 980 / W, 1 - 1257 / H, 49)
text("Combo 30min LS30 Return (Universe)", 2743.5 / W, 1 - 1257 / H, 49)
text("Rtn.", 42 / W, 1 - 684.5 / H, 41, -90)
text("Turnover", 1831 / W, 1 - 684.5 / H, 41, -90)
text("Return", 42 / W, 1 - 1792 / H, 41, -90)
text("Return", 1806 / W, 1 - 1792 / H, 41, -90)

fig.write_html("out.html")
